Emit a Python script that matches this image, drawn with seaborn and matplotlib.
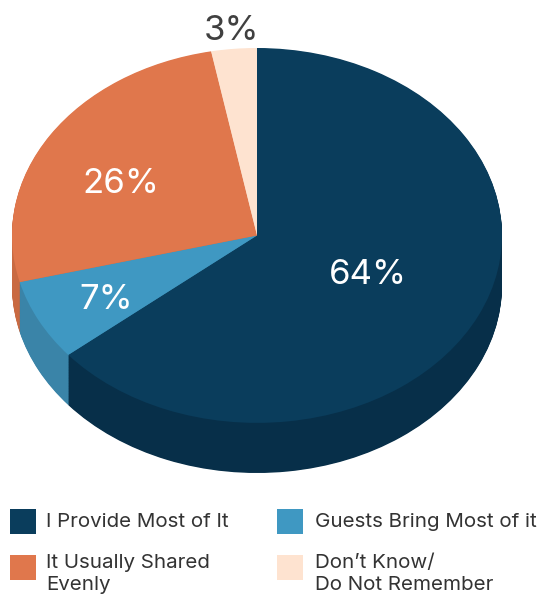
# ---------- pie chart with a fake 3D side ----------
import numpy as np
import matplotlib
matplotlib.use("Agg")
import matplotlib.pyplot as plt
from matplotlib.patches import Rectangle
import seaborn as sns

labels = ["I Provide Most of It", "Guests Bring Most of it",
          "It Usually Shared\nEvenly", "Don\u2019t Know/\nDo Not Remember"]
values = [64, 7, 26, 3]

top_colors = sns.color_palette(["#0A3D5C", "#3F98C2", "#E0774C", "#FEE3D0"])
side_colors = sns.color_palette(["#072F49", "#3A84A8", "#C96A42", "#E8CDBA"])

W, H = 540, 597
sns.set_theme(style="white")
plt.rcParams["font.family"] = ["Inter", "DejaVu Sans"]

fig = plt.figure(figsize=(W / 100, H / 100), dpi=100)

# axes box = ellipse + side, in pixels of the picture
ax = fig.add_axes([12 / W, 1 - 473 / H, 490 / W, 425 / H])
depth = 50 / 187

# side first, stacked from the bottom up
for d in np.linspace(depth, 0, 70)[:-1]:
    ax.pie(values, colors=side_colors, startangle=90, counterclock=False,
           center=(0, -d), radius=1, wedgeprops={"linewidth": 0})

ax.pie(values, colors=top_colors, startangle=90, counterclock=False,
       center=(0, 0), radius=1, wedgeprops={"linewidth": 0})
ax.set_aspect("auto")
ax.set_xlim(-1, 1)
ax.set_ylim(-1 - depth, 1)
ax.axis("off")

def px_text(x, y, s, **kw):
    fig.text(x / W, 1 - y / H, s, **kw)

# percent labels
pct_pos = [(368, 275), (106, 300), (121, 184), (231, 31)]
pct_col = ["white", "white", "white", "#404040"]
for v, p, c in zip(values, pct_pos, pct_col):
    px_text(p[0], p[1], f"{v}%", color=c, fontsize=25, ha="center", va="center")

# legend, done by hand so the swatch sits on the first line
leg_pos = [(10, 509), (277, 509), (10, 555), (277, 555)]
txt_x = [46, 315, 46, 315]
txt_y = [513, 513, 554, 554]
for lab, col, (x, y), tx, ty in zip(labels, top_colors, leg_pos, txt_x, txt_y):
    fig.add_artist(Rectangle((x / W, 1 - (y + 24.5) / H), 26 / W, 24.5 / H,
                             transform=fig.transFigure, color=col, lw=0))
    px_text(tx, ty, lab, color="#333333", fontsize=14.8, ha="left",
            va="top", linespacing=1.26)

fig.savefig("out.png", dpi=100)
